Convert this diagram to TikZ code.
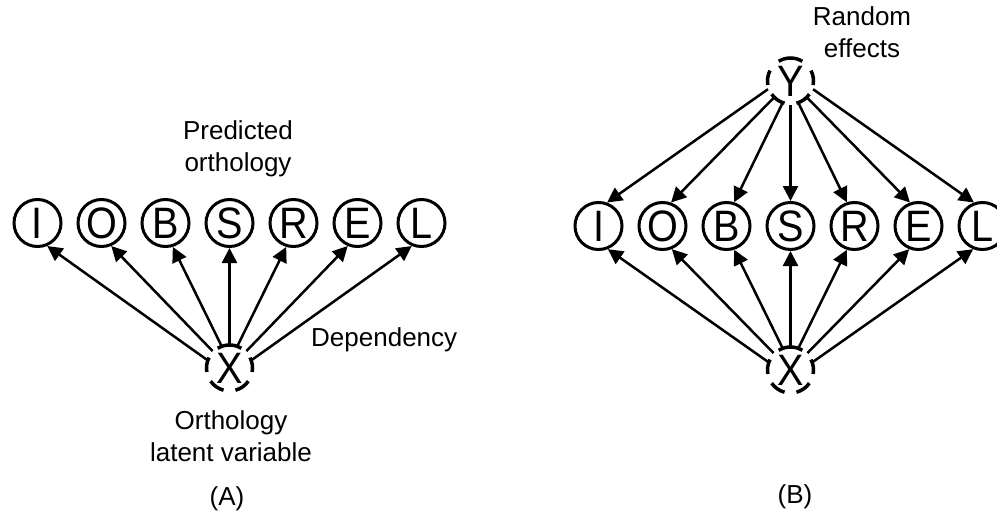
\documentclass[tikz,border=0pt]{standalone}
\usepackage{fontspec}
\setmainfont{Liberation Sans}
\usetikzlibrary{arrows.meta}
% slightly condensed capitals inside the circles
\newcommand{\narrowglyph}[1]{\scalebox{0.9}[1]{#1}}

\begin{document}
\begin{tikzpicture}[x=1pt,y=1pt,
  observed/.style={circle, draw, line width=3pt, minimum size=47pt, inner sep=0pt,
    font=\fontsize{44}{44}\selectfont},
  latent/.style={circle, minimum size=48pt, inner sep=0pt, outer sep=0pt,
    font=\fontsize{44}{44}\selectfont},
  latentring/.style={line width=3.5pt},
  dep/.style={line width=2.5pt, -{Triangle[length=15pt,width=15pt]}},
  caption/.style={font=\fontsize{26}{32.5}\selectfont, align=center, inner sep=0pt}]

\useasboundingbox (0,0) rectangle (997,-514);

% ---------- (A) ----------
\foreach \n [count=\k from 0] in {I,O,B,S,R,E,L}
  \node[observed] (a\n) at (37.5+64*\k,-223) {\narrowglyph{\n}};
\node[latent] (aX) at (229.5,-368) {\narrowglyph{X}};

\foreach \t/\s/\e in {aI/160/-67, aO/135/-67, aB/110/-73, aS/90/-90,
                      aR/70/-107, aE/45/-113, aL/20/-113}
  \draw[dep] (aX.\s) -- (\t.\e);

\node[caption, anchor=north] (apred) at (238,-120) {Predicted\\orthology};
\node[caption, anchor=base west] (adep) at (311,-346) {Dependency};
\node[caption, anchor=north] (alat) at (231,-410) {Orthology\\latent variable};
\node[caption, anchor=base] (acap) at (227,-505) {(A)};

% ---------- (B) ----------
\foreach \n [count=\k from 0] in {I,O,B,S,R,E,L}
  \node[observed] (b\n) at (598.5+64*\k,-226) {\narrowglyph{\n}};
\node[latent] (bX) at (790.5,-370) {\narrowglyph{X}};
\node[latent] (bY) at (790.5,-81) {\narrowglyph{Y}};

\foreach \t/\s/\e in {bI/160/-68, bO/135/-68, bB/110/-72, bS/90/-90,
                      bR/70/-108, bE/45/-112, bL/20/-112}
  \draw[dep] (bX.\s) -- (\t.\e);
\foreach \t/\s/\e in {bI/200/70, bO/225/70, bB/250/72, bS/270/90,
                      bR/290/108, bE/315/110, bL/340/110}
  \draw[dep] (bY.\s) -- (\t.\e);

\node[caption, anchor=north] (brand) at (862,-6) {Random\\effects};
\node[caption, anchor=base] (bcap) at (795,-503) {(B)};

% broken rings around the latent variables
\foreach \n in {aX,bX,bY}
  \foreach \s/\e in {-10/27, 59/121, 153/190, 215/255, 285/325}
    \draw[latentring] (\n.center) ++(\s:23) arc[start angle=\s, end angle=\e, radius=23];

\end{tikzpicture}
\end{document}
